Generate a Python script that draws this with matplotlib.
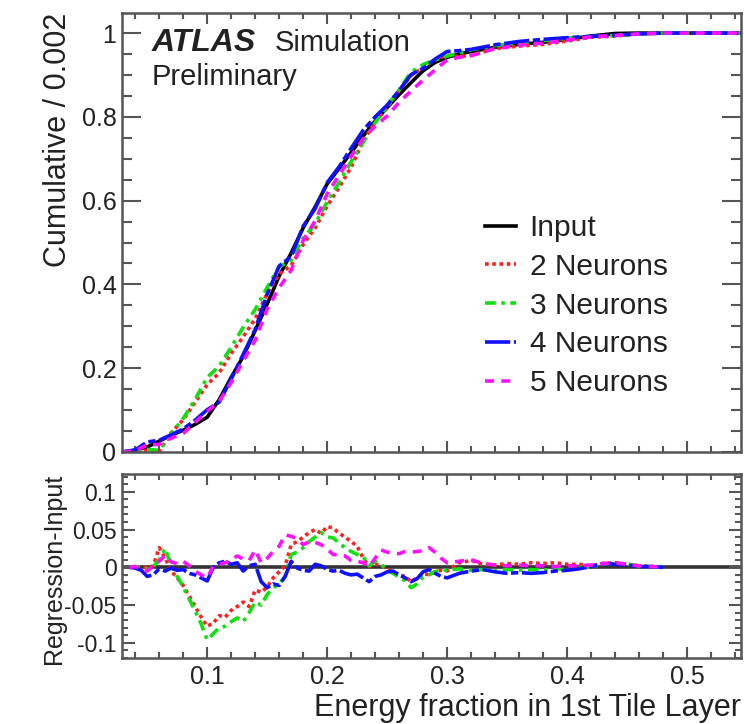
import numpy as np
import matplotlib
matplotlib.use("Agg")
import matplotlib.pyplot as plt
from matplotlib.ticker import MultipleLocator

plt.rcParams['font.family'] = ['Liberation Sans', 'DejaVu Sans']

# cumulative distributions, upper pad
cum_x = [0.029, 0.04, 0.05, 0.06, 0.07, 0.08, 0.09, 0.10, 0.11, 0.12,
         0.13, 0.14, 0.15, 0.16, 0.17, 0.18, 0.19, 0.20, 0.21, 0.22,
         0.23, 0.24, 0.25, 0.26, 0.27, 0.28, 0.29, 0.30, 0.31, 0.32,
         0.34, 0.36, 0.38, 0.40, 0.42, 0.44, 0.46, 0.48, 0.50, 0.545]
cum_input = [0, 0.004, 0.012, 0.026, 0.040, 0.052, 0.066, 0.083, 0.125, 0.178,
             0.228, 0.290, 0.353, 0.420, 0.475, 0.535, 0.585, 0.640, 0.677, 0.715,
             0.754, 0.790, 0.822, 0.853, 0.882, 0.910, 0.930, 0.942, 0.950, 0.956,
             0.966, 0.973, 0.978, 0.985, 0.993, 0.999, 1.0, 1.0, 1.0, 1.0]
cum_n2 = [0, 0.002, 0.004, 0.002, 0.046, 0.077, 0.119, 0.161, 0.189, 0.235,
          0.275, 0.318, 0.378, 0.425, 0.445, 0.495, 0.535, 0.587, 0.632, 0.680,
          0.742, 0.788, 0.822, 0.863, 0.899, 0.918, 0.936, 0.947, 0.944, 0.947,
          0.963, 0.969, 0.973, 0.981, 0.990, 0.993, 0.998, 1.0, 1.0, 1.0]
cum_n3 = [0, 0.003, 0.006, 0.004, 0.044, 0.080, 0.126, 0.178, 0.205, 0.250,
          0.298, 0.340, 0.393, 0.442, 0.458, 0.510, 0.545, 0.597, 0.644, 0.693,
          0.739, 0.786, 0.825, 0.865, 0.907, 0.925, 0.936, 0.945, 0.952, 0.960,
          0.970, 0.977, 0.982, 0.988, 0.992, 0.994, 0.998, 1.0, 1.0, 1.0]
cum_n4 = [0, 0.005, 0.024, 0.028, 0.041, 0.055, 0.076, 0.101, 0.119, 0.174,
          0.233, 0.293, 0.377, 0.444, 0.467, 0.539, 0.581, 0.643, 0.681, 0.725,
          0.768, 0.800, 0.828, 0.863, 0.901, 0.916, 0.938, 0.956, 0.958, 0.961,
          0.972, 0.980, 0.985, 0.989, 0.992, 0.995, 0.998, 1.0, 1.0, 1.0]
cum_n5 = [0, 0.003, 0.017, 0.018, 0.033, 0.044, 0.071, 0.097, 0.121, 0.166,
          0.217, 0.267, 0.341, 0.392, 0.434, 0.505, 0.552, 0.616, 0.661, 0.706,
          0.748, 0.778, 0.802, 0.835, 0.862, 0.888, 0.912, 0.936, 0.942, 0.946,
          0.963, 0.971, 0.976, 0.983, 0.991, 0.994, 0.998, 1.0, 1.0, 1.0]

# differences, lower pad (0.005 steps up to 0.30, then 0.01 steps)
diff_x = np.concatenate([np.round(np.arange(0.035, 0.3001, 0.005), 3),
                         np.round(np.arange(0.31, 0.4801, 0.01), 2)])
diff_n2 = [0, 0, 0.001, -0.001, 0.002, 0.026, 0.012, -0.005, -0.014, -0.024,
           -0.038, -0.052, -0.066, -0.078, -0.074, -0.064, -0.066, -0.057, -0.052, -0.046,
           -0.052, -0.030, -0.033, -0.026, -0.014, -0.006, 0.002, 0.030, 0.034, 0.040,
           0.046, 0.050, 0.045, 0.054, 0.052, 0.045, 0.040, 0.034, 0.028, 0.012,
           0.001, 0.004, 0.003, -0.003, -0.006, -0.010, -0.012, -0.019, -0.014, -0.008,
           -0.010, -0.006, -0.004, -0.005,
           0.006, 0.009, 0.004, 0.003, 0.005, 0.004, 0.006, 0.005, 0.006, 0.004,
           0.004, 0.002, 0.005, 0.006, 0.004, 0.002, 0.001, 0]
diff_n3 = [0, 0.001, 0, -0.002, 0.001, 0.010, 0.025, 0.002, -0.012, -0.026,
           -0.042, -0.058, -0.075, -0.096, -0.088, -0.080, -0.078, -0.072, -0.067, -0.072,
           -0.060, -0.046, -0.050, -0.036, -0.027, -0.022, -0.012, 0.017, 0.020, 0.026,
           0.034, 0.040, 0.046, 0.040, 0.039, 0.032, 0.026, 0.021, 0.017, 0.014,
           0.002, 0.008, 0.004, -0.004, -0.008, -0.013, -0.018, -0.027, -0.022, -0.013,
           -0.010, -0.006, -0.003, -0.004,
           -0.002, -0.004, -0.003, -0.005, -0.003, -0.004, -0.003, -0.004, -0.002, -0.003,
           -0.001, 0.001, 0.004, 0.005, 0.004, 0.002, 0.001, 0]
diff_n4 = [0, -0.001, -0.004, -0.012, -0.010, -0.002, -0.005, -0.001, -0.004, -0.003,
           -0.008, -0.010, -0.014, -0.018, 0.000, 0.006, 0.008, 0.004, 0.006, -0.005,
           0.002, 0.004, -0.019, -0.027, -0.022, -0.024, -0.012, 0.008, -0.001, -0.004,
           -0.005, 0.004, 0.002, -0.003, -0.005, -0.004, -0.008, -0.010, -0.009, -0.014,
           -0.019, -0.012, -0.010, -0.006, -0.005, -0.010, -0.014, -0.019, -0.015, -0.006,
           -0.003, -0.008, -0.012, -0.014,
           -0.008, -0.005, -0.003, -0.006, -0.008, -0.007, -0.008, -0.007, -0.005, -0.004,
           -0.002, 0.001, 0.005, 0.004, 0.003, 0.001, 0.001, 0]
diff_n5 = [0, 0.001, -0.002, -0.005, 0.002, 0.008, 0.016, 0.007, 0.005, 0.008,
           0.002, -0.005, -0.010, -0.014, 0.001, 0.004, 0.006, 0.010, 0.015, 0.011,
           0.009, 0.023, 0.006, 0.012, 0.021, 0.028, 0.043, 0.041, 0.038, 0.030,
           0.034, 0.033, 0.030, 0.024, 0.017, 0.016, 0.015, 0.009, 0.008, 0.006,
           0.001, 0.012, 0.023, 0.020, 0.019, 0.018, 0.021, 0.020, 0.021, 0.022,
           0.026, 0.020, 0.012, 0.006,
           0.008, 0.010, 0.005, 0.003, 0.002, 0.003, 0.002, 0.002, 0.001, 0.002,
           0.002, 0.003, 0.005, 0.006, 0.004, 0.002, 0.001, 0]

labels = ['Input', '2 Neurons', '3 Neurons', '4 Neurons', '5 Neurons']
colors = ['black', '#ff2020', '#10e010', '#1010ff', '#ff10ff']
styles = ['-', (0, (1, 1)), (0, (3, 1.5, 1, 1.5)), (0, (7, 1, 2, 1)), (0, (2.5, 2))]

FRAME = '#555555'
TEXT = '#222222'


def style_axis(ax, ymajor, yminor, ylen, xlen, ysize):
    """
    ROOT-like frame: inward ticks on all four sides.
    """
    for sp in ax.spines.values():
        sp.set_color(FRAME)
        sp.set_linewidth(1.8)
    ax.xaxis.set_major_locator(MultipleLocator(0.1))
    ax.xaxis.set_minor_locator(MultipleLocator(0.02))
    ax.yaxis.set_major_locator(MultipleLocator(ymajor))
    ax.yaxis.set_minor_locator(MultipleLocator(yminor))
    ax.tick_params(which='both', direction='in', top=True, right=True,
                   color=FRAME, width=1.5, labelcolor=TEXT, labelsize=18)
    ax.tick_params(axis='y', which='major', length=ylen, pad=4, labelsize=ysize)
    ax.tick_params(axis='y', which='minor', length=ylen / 2)
    ax.tick_params(axis='x', which='major', length=xlen, pad=5)
    ax.tick_params(axis='x', which='minor', length=xlen / 2)


fig = plt.figure(figsize=(7.44, 7.24), dpi=100)
ax_top = fig.add_axes([0.164, 0.3757, 0.832, 0.6064])
ax_bot = fig.add_axes([0.164, 0.0912, 0.832, 0.2541])

cum_series = [cum_input, cum_n2, cum_n3, cum_n4, cum_n5]
for ys, lab, col, ls in zip(cum_series, labels, colors, styles):
    ax_top.plot(cum_x, ys, color=col, linestyle=ls, lw=2.6, label=lab)

ax_top.set_xlim(0.029, 0.545)
ax_top.set_ylim(0, 1.048)
style_axis(ax_top, 0.2, 0.05, 14, 8, 18)
ax_top.tick_params(axis='x', labelbottom=False)
ax_top.set_yticks([0, 0.2, 0.4, 0.6, 0.8, 1.0], ['0', '0.2', '0.4', '0.6', '0.8', '1'])
ax_top.set_ylabel('Cumulative / 0.002', fontsize=22, color=TEXT, loc='top')
ax_top.yaxis.set_label_coords(-0.079, 1.0)

ax_top.text(0.048, 0.932, 'ATLAS', transform=ax_top.transAxes, fontsize=23,
            fontweight='bold', fontstyle='italic', color=TEXT, va='center')
ax_top.text(0.247, 0.932, 'Simulation', transform=ax_top.transAxes, fontsize=21,
            color=TEXT, va='center')
ax_top.text(0.048, 0.854, 'Preliminary', transform=ax_top.transAxes, fontsize=21,
            color=TEXT, va='center')

leg = ax_top.legend(loc='upper left', bbox_to_anchor=(0.586, 0.542), frameon=False,
                    fontsize=21.5, handlelength=1.05, handletextpad=0.45,
                    labelspacing=0.36, borderpad=0, borderaxespad=0)
for t in leg.get_texts():
    t.set_color(TEXT)

# lower pad: differences with respect to the input
ax_bot.axhline(0, color='#333333', lw=2.6, zorder=1)
diff_series = [diff_n2, diff_n3, diff_n4, diff_n5]
for ys, col, ls in zip(diff_series, colors[1:], styles[1:]):
    ax_bot.plot(diff_x, ys, color=col, linestyle=ls, lw=2.6, zorder=2)

ax_bot.set_xlim(0.029, 0.545)
ax_bot.set_ylim(-0.12, 0.1235)
style_axis(ax_bot, 0.05, 0.01, 9, 8, 16.5)
ax_bot.set_yticks([-0.1, -0.05, 0, 0.05, 0.1], ['-0.1', '-0.05', '0', '0.05', '0.1'])
ax_bot.set_xticks([0.1, 0.2, 0.3, 0.4, 0.5], ['0.1', '0.2', '0.3', '0.4', '0.5'])
ax_bot.set_ylabel('Regression-Input', fontsize=18, color=TEXT, loc='top')
ax_bot.yaxis.set_label_coords(-0.09, 1.0)
ax_bot.set_xlabel('Energy fraction in 1st Tile Layer', fontsize=22, color=TEXT, loc='right')
ax_bot.xaxis.set_label_coords(1.0, -0.19)

fig.savefig('out.png', dpi=100)
